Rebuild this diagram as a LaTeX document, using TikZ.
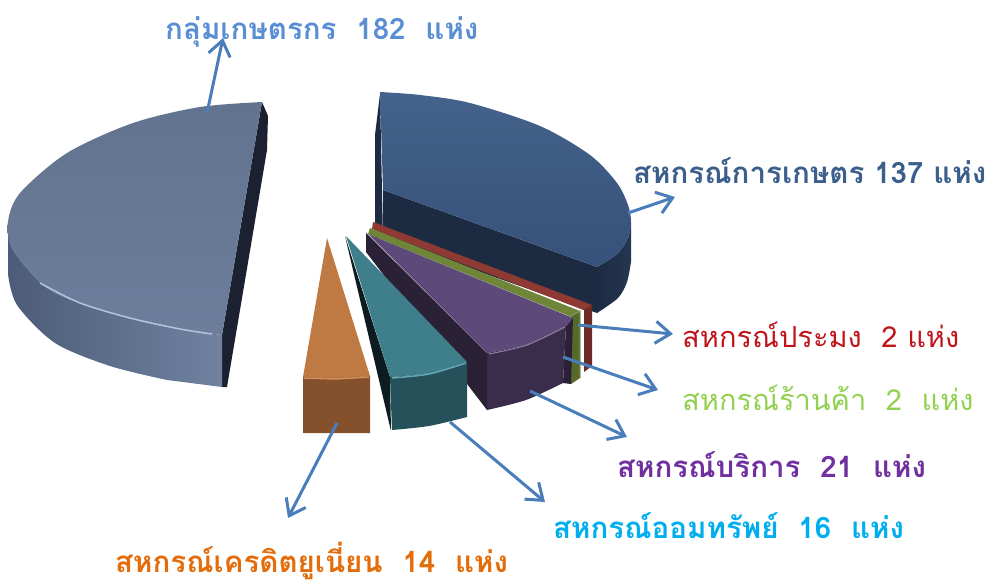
\documentclass[tikz,border=0pt]{standalone}
\usepackage{fontspec}
\usepackage{tikz}
\usetikzlibrary{arrows.meta}
\newfontfamily\thaifont[Script=Thai]{Loma}

\definecolor{farmTop}{HTML}{6C7E9B}
\definecolor{farmTopB}{HTML}{62738F}
\definecolor{farmSideL}{HTML}{4C5C78}
\definecolor{farmSideR}{HTML}{7082A0}
\definecolor{farmRim}{HTML}{B3C3DE}
\definecolor{farmDark}{HTML}{1B2130}
\definecolor{agriTop}{HTML}{44628B}
\definecolor{agriTopB}{HTML}{36517A}
\definecolor{agriDark}{HTML}{1D2B42}
\definecolor{fishTop}{HTML}{8E3A32}
\definecolor{fishSide}{HTML}{6E2B25}
\definecolor{shopTop}{HTML}{6F8638}
\definecolor{shopSide}{HTML}{55692B}
\definecolor{svcTop}{HTML}{5E4A7A}
\definecolor{svcSide}{HTML}{3A2D4C}
\definecolor{svcDark}{HTML}{2A2136}
\definecolor{savTop}{HTML}{3F7F8C}
\definecolor{savSide}{HTML}{25515B}
\definecolor{savDark}{HTML}{0E1C22}
\definecolor{savRim}{HTML}{62A8B6}
\definecolor{cuTop}{HTML}{BF7A44}
\definecolor{cuSide}{HTML}{85502C}
\definecolor{cuRim}{HTML}{D4905A}
\definecolor{arrowBlue}{HTML}{4A7EBB}
\definecolor{txtFarm}{HTML}{5A8ED4}
\definecolor{txtAgri}{HTML}{3B5E8C}
\definecolor{txtFish}{HTML}{C0141C}
\definecolor{txtShop}{HTML}{92D050}
\definecolor{txtSvc}{HTML}{7030A0}
\definecolor{txtSav}{HTML}{00AEEF}
\definecolor{txtCu}{HTML}{E46C0A}

\begin{document}
\begin{tikzpicture}[x=1pt, y=-1pt,
    lbl/.style={font=\thaifont\fontsize{29}{32}\selectfont, anchor=base west, inner sep=0pt},
    lblb/.style={lbl, font=\thaifont\bfseries\fontsize{29.5}{32}\selectfont},
    pointer/.style={draw=arrowBlue, line width=3pt, -{Straight Barb[length=15pt, width=22pt]}}]
\useasboundingbox (0,0) rectangle (988,586);

% slice 182, left half
\fill[farmDark] (262,102) -- (268,116) -- (267,150) -- (227,387) -- (222,387) -- (222,335) -- cycle;
\shade[left color=farmSideL, right color=farmSideR] plot[smooth] coordinates {(8,222) (13,250) (50,290) (110,313) (167,327) (222,335)}
    -- (222,387) -- plot[smooth] coordinates {(167,380) (110,366) (55,343) (17,305) (8,274)} -- cycle;
\shade[top color=farmTopB, bottom color=farmTop] (262,102) -- (222,335) -- plot[smooth] coordinates {(222,335) (167,327) (110,313) (50,290) (13,250) (8,222) (20,193) (67,153) (133,123) (200,107) (262,102)} -- cycle;
\draw[farmRim, line width=1.5pt] plot[smooth] coordinates {(40,283) (80,303) (130,318) (180,329) (212,334)};

% slice 137
\fill[agriDark] (380,94) -- (383,238) -- (375,238) -- (375,135) -- cycle;
\fill[agriDark] (383,190) -- (597,267) -- (597,313) -- (383,238) -- cycle;
\shade[left color=agriDark, right color=agriDark!80!agriTop] plot[smooth] coordinates {(597,267) (617,254) (628,238) (631,222)}
    -- plot[smooth] coordinates {(631,262) (627,282) (618,298) (597,313)} -- cycle;
\shade[top color=agriTop, bottom color=agriTopB] (380,92) -- (383,190) -- (597,267) -- plot[smooth] coordinates {(597,267) (617,254) (628,238) (631,222) (628,205) (617,183) (590,155) (540,126) (470,103) (420,95) (380,92)} -- cycle;

% slice 2, red
\fill[fishTop] (373,222) -- (592,305) -- (586,311) -- (372,229) -- cycle;
\fill[fishSide] (584,310) -- (592,305) -- (592,366) -- (584,372) -- cycle;

% slice 2, green
\fill[shopTop] (370,228) -- (580,311) -- (574,318) -- (368,234) -- cycle;
\fill[shopSide] (571,316) -- (580,311) -- (580,378) -- (571,384) -- cycle;
\draw[shopTop!80!white, line width=1pt] (571,316) -- (580,311) -- (580,378);

% slice 21
\fill[svcDark] (366,233) -- (487,353) -- (487,410) -- (366,252) -- cycle;
\fill[svcDark] (566,326) -- (573,318) -- (571,384) -- (563,383) -- cycle;
\fill[svcTop] (368,234) -- (573,318) -- (566,326) -- plot[smooth] coordinates {(566,326) (527,344) (487,353)} -- cycle;
\fill[svcSide] plot[smooth] coordinates {(487,353) (527,344) (566,326)} -- (563,383) -- plot[smooth] coordinates {(563,383) (526,400) (487,410)} -- cycle;
\draw[svcTop!70!white, line width=1pt] plot[smooth] coordinates {(489,354) (527,345) (565,327)};

% slice 16
\fill[savDark] (345,236) -- (390,377) -- (391,431) -- cycle;
\fill[savTop] (346,236) -- (467,362) -- plot[smooth] coordinates {(467,362) (429,373) (390,377)} -- cycle;
\fill[savSide] plot[smooth] coordinates {(390,377) (429,373) (467,362)} -- (467,417) -- plot[smooth] coordinates {(467,417) (429,426) (392,430)} -- cycle;
\draw[savRim, line width=1.5pt] plot[smooth] coordinates {(392,378) (429,374) (466,363)};

% slice 14
\fill[cuTop] (327,238) -- (370,376) -- plot[smooth] coordinates {(370,376) (336,378) (303,377)} -- cycle;
\fill[cuSide] (303,377) -- (336,378) -- (370,376) -- (370,433) -- (303,433) -- cycle;
\draw[cuRim, line width=1.5pt] (304,378) -- (336,379) -- (369,377);

% labels
\node[lblb, text=txtFarm] (g182) at (165,40) {กลุ่มเกษตรกร\ \ 182\ \ แห่ง};
\node[lblb, text=txtAgri] (g137) at (633,183) {สหกรณ์การเกษตร 137 แห่ง};
\node[lbl, text=txtFish] (gfish) at (682,347) {สหกรณ์ประมง\ \ 2 แห่ง};
\node[lbl, text=txtShop] (gshop) at (682,410) {สหกรณ์ร้านค้า\ \ 2\ \ แห่ง};
\node[lblb, text=txtSvc] (gsvc) at (617,477) {สหกรณ์บริการ\ \ 21\ \ แห่ง};
\node[lblb, text=txtSav] (gsav) at (553,538) {สหกรณ์ออมทรัพย์\ \ 16\ \ แห่ง};
\node[lblb, text=txtCu] (gcu) at (115,572) {สหกรณ์เครดิตยูเนี่ยน\ \ 14\ \ แห่ง};

% arrows
\coordinate (s182) at (207,113);  \coordinate (t182) at (223,38);
\coordinate (s137) at (628,213);  \coordinate (t137) at (675,197);
\coordinate (sfish) at (578,325); \coordinate (tfish) at (673,334);
\coordinate (sshop) at (563,357); \coordinate (tshop) at (658,390);
\coordinate (ssvc) at (530,391);  \coordinate (tsvc) at (627,437);
\coordinate (ssav) at (450,422);  \coordinate (tsav) at (545,502);
\coordinate (scu) at (337,423);   \coordinate (tcu) at (288,518);
\draw[pointer] (s182) -- (t182);
\draw[pointer] (s137) -- (t137);
\draw[pointer] (sfish) -- (tfish);
\draw[pointer] (sshop) -- (tshop);
\draw[pointer] (ssvc) -- (tsvc);
\draw[pointer] (ssav) -- (tsav);
\draw[pointer] (scu) -- (tcu);
\end{tikzpicture}
\end{document}
